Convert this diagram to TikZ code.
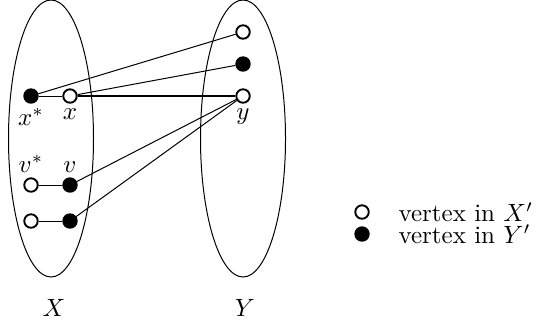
\documentclass[tikz,border=0pt]{standalone}
\usepackage{tikz}
\usetikzlibrary{positioning,shapes.geometric}
\tikzset{
  part set/.style={ellipse,draw,minimum width=34pt,minimum height=110.8pt,inner sep=0pt},
  open vertex/.style={circle,draw,line width=0.75pt,fill=white,minimum size=5.4pt,inner sep=0pt},
  full vertex/.style={circle,draw,line width=0.75pt,fill=black,minimum size=5.4pt,inner sep=0pt},
  thin edge/.style={line width=0.4pt},
  match edge/.style={line width=0.9pt},
}

\begin{document}
\begin{tikzpicture}[x=0.4pt,y=-0.4pt]
  \useasboundingbox (0,0) rectangle (537,327);
  \node[part set] (setX) at (51,138.5) {};
  \node[part set] (setY) at (243,138.5) {};
  \node at (54,308) {$X$};
  \node at (245,308) {$Y$};
  % left side
  \node[full vertex] (xstar) at (31,96) {};
  \node[open vertex] (xnode) at (70,96) {};
  \node[open vertex] (vstar) at (31,185) {};
  \node[full vertex] (vnode) at (70,185) {};
  \node[open vertex] (wstar) at (31,221) {};
  \node[full vertex] (wnode) at (70,221) {};
  \node[below=-1.5pt of xstar] {$x^*$};
  \node[below=-1.5pt of xnode] {$x$};
  \node[above=-1.5pt of vstar] {$v^*$};
  \node[above=-1.5pt of vnode] {$v$};
  % right side
  \node[open vertex] (ytop) at (243,32) {};
  \node[full vertex] (ymid) at (243,64) {};
  \node[open vertex] (ynode) at (243,96) {};
  \node[below=-1.5pt of ynode] {$y$};
  % edges
  \draw[match edge] (xnode) -- (ynode);
  \foreach \a/\b in {xstar/xnode,vstar/vnode,wstar/wnode,xstar/ytop,xnode/ymid,vnode/ynode,wnode/ynode}
    \draw[thin edge] (\a) -- (\b);
  % legend
  \node[open vertex] (keyX) at (362,212) {};
  \node[full vertex] (keyY) at (362,234) {};
  \node[right=8pt of keyX] {vertex in $X'$};
  \node[right=8pt of keyY] {vertex in $Y'$};
\end{tikzpicture}
\end{document}
